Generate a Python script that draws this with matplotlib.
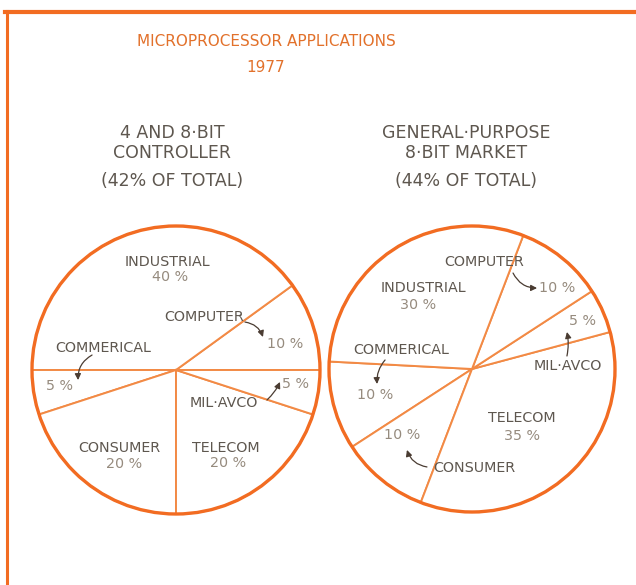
import matplotlib.pyplot as plt
from matplotlib.lines import Line2D
from matplotlib.patches import Circle

# data
left_categories = ['COMPUTER', 'INDUSTRIAL', 'COMMERICAL', 'CONSUMER', 'TELECOM', 'MIL·AVCO']
left_shares = [10, 40, 5, 20, 20, 5]
right_categories = ['COMMERICAL', 'CONSUMER', 'TELECOM', 'MIL·AVCO', 'COMPUTER', 'INDUSTRIAL']
right_shares = [10, 10, 35, 5, 10, 30]
left_title = ['4 AND 8·BIT', 'CONTROLLER', '(42% OF TOTAL)']
right_title = ['GENERAL·PURPOSE', '8·BIT MARKET', '(44% OF TOTAL)']

ORANGE = '#f26c22'
LINE = '#f28a45'
NAME = '#5e574f'
PCT = '#968b7e'
ARROW = '#4a3c32'

W, H = 636, 585
fig = plt.figure(figsize=(W / 100, H / 100), dpi=100)
fig.patch.set_facecolor('white')

# frame (top and left edge of the page)
fig.add_artist(Line2D([5 / W, 1], [1 - 11.5 / H] * 2, color=ORANGE, lw=3))
fig.add_artist(Line2D([7 / W] * 2, [0, 1 - 11 / H], color=ORANGE, lw=2.2))

fig.text(266 / W, 1 - 42 / H, 'MICROPROCESSOR APPLICATIONS', ha='center', va='center',
         fontsize=11, color='#e2712b')
fig.text(266 / W, 1 - 67 / H, '1977', ha='center', va='center', fontsize=11, color='#e2712b')


def pie_axes(cx, cy, r):
    half = 1.05 * r
    ax = fig.add_axes([(cx - half) / W, (H - cy - half) / H, 2 * half / W, 2 * half / H])
    ax.set_xlim(-1.05, 1.05)
    ax.set_ylim(-1.05, 1.05)
    ax.set_aspect('equal')
    ax.axis('off')
    return ax


def draw_pie(ax, shares, start):
    ax.pie(shares, startangle=start, counterclock=True, radius=1, center=(0, 0), frame=True,
           wedgeprops=dict(facecolor='white', edgecolor=LINE, linewidth=1.4))
    ax.add_patch(Circle((0, 0), 1, fill=False, edgecolor=ORANGE, lw=2.4, zorder=5))
    ax.set_xlim(-1.05, 1.05)
    ax.set_ylim(-1.05, 1.05)
    ax.axis('off')


def name(ax, s, x, y):
    ax.text(x, y, s, ha='center', va='center', fontsize=10.3, color=NAME, zorder=6)


def pct(ax, v, x, y):
    ax.text(x, y, f'{v} %', ha='center', va='center', fontsize=10.3, color=PCT, zorder=6)


def arrow(ax, x0, y0, x1, y1, rad):
    ax.annotate('', xy=(x1, y1), xytext=(x0, y0), zorder=6,
                arrowprops=dict(arrowstyle='-|>', color=ARROW, lw=0.9, mutation_scale=9,
                                connectionstyle=f'arc3,rad={rad}', shrinkA=0, shrinkB=0))


# left pie: 4 and 8-bit controller
axl = pie_axes(176, 370, 144)
draw_pie(axl, left_shares, 0)
lv = dict(zip(left_categories, left_shares))
name(axl, 'INDUSTRIAL', -0.056, 0.75)
pct(axl, lv['INDUSTRIAL'], -0.04, 0.646)
name(axl, 'COMPUTER', 0.194, 0.368)
pct(axl, lv['COMPUTER'], 0.757, 0.18)
arrow(axl, 0.479, 0.333, 0.604, 0.229, -0.3)
name(axl, 'COMMERICAL', -0.507, 0.153)
pct(axl, lv['COMMERICAL'], -0.806, -0.111)
arrow(axl, -0.583, 0.104, -0.68, -0.07, 0.3)
name(axl, 'MIL·AVCO', 0.333, -0.229)
pct(axl, lv['MIL·AVCO'], 0.833, -0.097)
arrow(axl, 0.632, -0.208, 0.722, -0.083, 0.1)
name(axl, 'CONSUMER', -0.396, -0.542)
pct(axl, lv['CONSUMER'], -0.361, -0.653)
name(axl, 'TELECOM', 0.347, -0.542)
pct(axl, lv['TELECOM'], 0.361, -0.646)

# right pie: general-purpose 8-bit market
axr = pie_axes(472, 369, 143)
draw_pie(axr, right_shares, 177)
rv = dict(zip(right_categories, right_shares))
name(axr, 'COMPUTER', 0.084, 0.748)
pct(axr, rv['COMPUTER'], 0.594, 0.566)
arrow(axr, 0.287, 0.671, 0.455, 0.566, 0.3)
name(axr, 'INDUSTRIAL', -0.343, 0.566)
pct(axr, rv['INDUSTRIAL'], -0.378, 0.448)
pct(axr, rv['MIL·AVCO'], 0.776, 0.336)
name(axr, 'MIL·AVCO', 0.671, 0.021)
arrow(axr, 0.664, 0.091, 0.664, 0.259, 0.1)
name(axr, 'COMMERICAL', -0.497, 0.133)
arrow(axr, -0.608, 0.063, -0.664, -0.105, 0.2)
pct(axr, rv['COMMERICAL'], -0.678, -0.182)
name(axr, 'TELECOM', 0.35, -0.343)
pct(axr, rv['TELECOM'], 0.35, -0.469)
pct(axr, rv['CONSUMER'], -0.49, -0.462)
name(axr, 'CONSUMER', 0.014, -0.692)
arrow(axr, -0.315, -0.685, -0.455, -0.566, -0.3)

# pie titles
for cx, lines in ((172, left_title), (466, right_title)):
    for s, y in zip(lines, (133, 153, 181)):
        fig.text(cx / W, 1 - y / H, s, ha='center', va='center', fontsize=12.5, color=NAME)

fig.savefig('out.png', dpi=100, facecolor='white')
